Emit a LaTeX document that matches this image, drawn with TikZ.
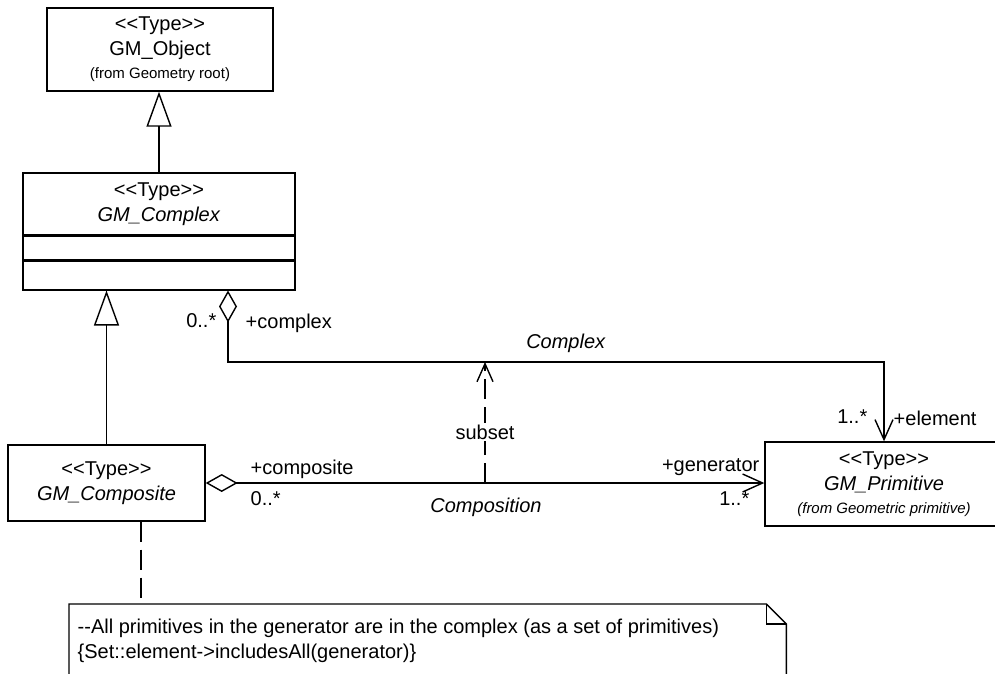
\documentclass[tikz,border=0pt]{standalone}
\usepackage{fontspec}
\setmainfont{Liberation Sans}
\usetikzlibrary{arrows.meta,positioning}

\begin{document}
\begin{tikzpicture}[x=0.5pt,y=-0.5pt,line width=0.7pt,
  font=\fontsize{10pt}{12.5pt}\selectfont,
  cls/.style={draw,rectangle,inner sep=0pt,align=center},
  lbl/.style={inner sep=0pt},
  gen/.style={-{Triangle[open,length=17.5pt,width=12.5pt]}},
  aggr/.style={{Diamond[open,length=16pt,width=9pt]}-{Straight Barb[length=10pt,width=9pt]}},
  dep/.style={dash pattern=on 10pt off 4pt,-{Straight Barb[length=9pt,width=8pt]}},
  anchorline/.style={dash pattern=on 10pt off 4pt}]
\useasboundingbox (0,0) rectangle (995,674);
\clip (0,0) rectangle (995,674);

% classes
\node [cls, minimum width=113pt, minimum height=41.5pt] (obj) at (160,49.5)
  {<{}<Type>{}>\\GM\_Object\\[-1pt]{\fontsize{7.5pt}{9pt}\selectfont (from Geometry root)}};
\node [cls, minimum width=136pt, minimum height=31pt] (cplx) at (159,204)
  {<{}<Type>{}>\\\textit{GM\_Complex}};
\node [cls, minimum width=136pt, minimum height=11.5pt, below=0pt of cplx] (cplxatt) {};
\node [cls, minimum width=136pt, minimum height=14.5pt, below=0pt of cplxatt] (cplxops) {};
\node [cls, minimum width=98.5pt, minimum height=38pt] (comp) at (106.5,483)
  {<{}<Type>{}>\\\textit{GM\_Composite}};
\node [cls, minimum width=119pt, minimum height=42pt] (prim) at (884,484)
  {<{}<Type>{}>\\\textit{GM\_Primitive}\\[-1pt]{\fontsize{7.5pt}{9pt}\selectfont\itshape (from Geometric primitive)}};

% generalisations
\draw [gen] (cplx.north) -- (cplx.north |- obj.south);
\draw [gen] (comp.north) -- (comp.north |- cplxops.south);

% associations
\coordinate (cxrow) at (485,362);
\draw [aggr] ([xshift=34.5pt]cplxops.south) |- (cxrow -| prim.north) -- (prim.north);
\draw [aggr] (comp.east) -- (comp.east -| prim.west);
\draw [dep] (cxrow |- comp.east) -- (cxrow);
\node [fill=white, inner sep=1pt] (subsetlbl) at (485,432) {subset};

% role names and multiplicities
\node [lbl, anchor=east] (cxmult) at (217,321) {0..*};
\node [lbl, anchor=west] (cxrole) at (245,323) {+complex};
\node [lbl] (cxname) at (566,343) {\textit{Complex}};
\node [lbl, anchor=east] (elmult) at (868,417) {1..*};
\node [lbl, anchor=west] (elrole) at (893,418) {+element};
\node [lbl, anchor=west] (cprole) at (250,469) {+composite};
\node [lbl, anchor=west] (cpmult) at (250,499) {0..*};
\node [lbl] (cpname) at (486,507) {\textit{Composition}};
\node [lbl, anchor=east] (gnrole) at (760,467) {+generator};
\node [lbl, anchor=east] (gnmult) at (750,499) {1..*};

% note
\node [anchor=north west, inner sep=0pt, minimum width=358pt, minimum height=75pt] (note) at (69,604) {};
\draw (note.south west) -- (note.north west) -- ([xshift=-10pt]note.north east)
  -- ([yshift=-10pt]note.north east) -- (note.south east);
\draw ([xshift=-10pt]note.north east) |- ([yshift=-10pt]note.north east);
\node [anchor=north west, align=left, inner sep=0pt] (notetext) at ([xshift=4pt,yshift=-7pt]note.north west)
  {-{}-All primitives in the generator are in the complex (as a set of primitives)\\
   \{Set::element-{}>includesAll(generator)\}};
\draw [anchorline] ([xshift=17.25pt]comp.south) -- ([xshift=17.25pt]comp.south |- note.north);
\end{tikzpicture}
\end{document}
